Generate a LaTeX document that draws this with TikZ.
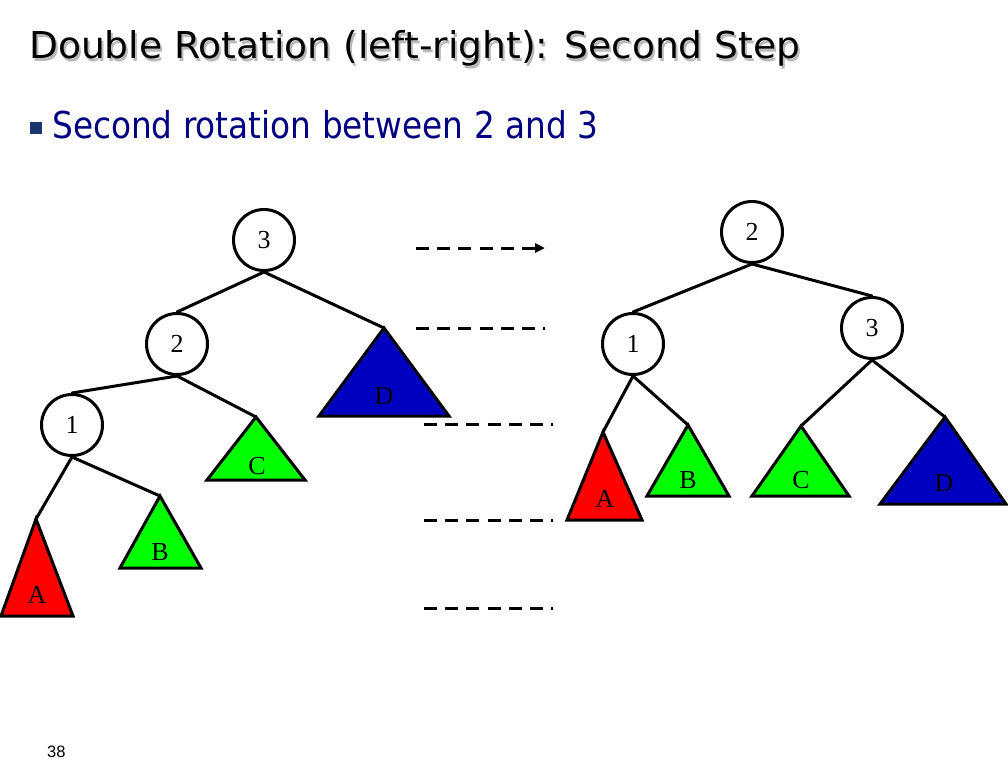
\documentclass[tikz,border=0pt]{standalone}
\usepackage{fontspec}
\setmainfont{Liberation Serif}
\newfontfamily\slidefont{DejaVu Sans}
\newfontfamily\numfont{Liberation Sans}
\usetikzlibrary{arrows.meta}
\definecolor{navy}{RGB}{0,0,128}
\definecolor{bulletblue}{RGB}{25,55,110}
\definecolor{tred}{RGB}{255,0,0}
\definecolor{tgreen}{RGB}{0,255,0}
\definecolor{tblue}{RGB}{0,0,192}
\definecolor{shadowgray}{RGB}{185,185,185}
\tikzset{
  keynode/.style={circle, draw=black, line width=3pt, fill=white, minimum size=61pt, inner sep=0pt, font=\fontsize{26}{26}\selectfont},
  edge/.style={line width=3pt, line cap=round},
  subtree/.style={draw=black, line width=3pt, line join=miter},
  tlabel/.style={font=\fontsize{26}{26}\selectfont, inner sep=0pt},
  dashline/.style={line width=3pt, dash pattern=on 13pt off 8.2pt},
}
\begin{document}
\begin{tikzpicture}[x=1pt,y=-1pt]
\useasboundingbox (0,0) rectangle (1008,768);
% title
\node[anchor=base west, inner sep=0pt, text=shadowgray] (titleshadow) at (31,61)
  {\resizebox{771pt}{\height}{\slidefont\fontsize{37}{44}\selectfont Double Rotation (left-right): Second Step}};
\node[anchor=base west, inner sep=0pt] (title) at (29,59)
  {\resizebox{771pt}{\height}{\slidefont\fontsize{37}{44}\selectfont Double Rotation (left-right): Second Step}};
% bullet
\fill[bulletblue] (30,122) rectangle (42,134);
\node[anchor=base west, inner sep=0pt, text=navy] (sub) at (52,138)
  {\resizebox{546pt}{\height}{\slidefont\fontsize{37}{44}\selectfont Second rotation between 2 and 3}};
% page number
\node[anchor=base west, inner sep=0pt] (pagenum) at (47,757) {\numfont\fontsize{16.5}{18}\selectfont 38};

% ---------- left tree ----------
\coordinate (LAa) at (36,519);
\coordinate (LBa) at (160,496);
\coordinate (LCa) at (256,417);
\coordinate (LDa) at (384,328);
\filldraw[subtree, fill=tred]   (LAa) -- (1,616) -- (73,616) -- cycle;
\filldraw[subtree, fill=tgreen] (LBa) -- (120,568) -- (201,568) -- cycle;
\filldraw[subtree, fill=tgreen] (LCa) -- (207,480) -- (305,480) -- cycle;
\filldraw[subtree, fill=tblue]  (LDa) -- (319,416) -- (449,416) -- cycle;
\node[tlabel] (LA) at (37,595) {A};
\node[tlabel] (LB) at (160,552) {B};
\node[tlabel] (LC) at (257,466) {C};
\node[tlabel] (LD) at (384,396) {D};

\node[keynode] (L3) at (264,240) {3};
\node[keynode] (L2) at (177,344) {2};
\node[keynode] (L1) at (72,425) {1};
\draw[edge] (L3.south) -- (L2.north);
\draw[edge] (L3.south) -- (LDa);
\draw[edge] (L2.south) -- (L1.north);
\draw[edge] (L2.south) -- (LCa);
\draw[edge] (L1.south) -- (LAa);
\draw[edge] (L1.south) -- (LBa);

% ---------- right tree ----------
\coordinate (RAa) at (603,432);
\coordinate (RBa) at (688,425);
\coordinate (RCa) at (801,426);
\coordinate (RDa) at (945,417);
\filldraw[subtree, fill=tred]   (RAa) -- (567,520) -- (642,520) -- cycle;
\filldraw[subtree, fill=tgreen] (RBa) -- (647,496) -- (729,496) -- cycle;
\filldraw[subtree, fill=tgreen] (RCa) -- (752,496) -- (849,496) -- cycle;
\filldraw[subtree, fill=tblue]  (RDa) -- (880,504) -- (1006,504) -- cycle;
\node[tlabel] (RA) at (605,499) {A};
\node[tlabel] (RB) at (688,480) {B};
\node[tlabel] (RC) at (801,480) {C};
\node[tlabel] (RD) at (944,483) {D};

\node[keynode] (R2) at (752,232) {2};
\node[keynode] (R1) at (633,344) {1};
\node[keynode] (R3) at (872,328) {3};
\draw[edge] (R2.south) -- (R1.north);
\draw[edge] (R2.south) -- (R3.north);
\draw[edge] (R1.south) -- (RAa);
\draw[edge] (R1.south) -- (RBa);
\draw[edge] (R3.south) -- (RCa);
\draw[edge] (R3.south) -- (RDa);

% ---------- dashed connectors ----------
\coordinate (d1s) at (416,248); \coordinate (d1e) at (545,248);
\coordinate (d2s) at (416,328); \coordinate (d2e) at (545,328);
\coordinate (d3s) at (424,424); \coordinate (d3e) at (553,424);
\coordinate (d4s) at (424,520); \coordinate (d4e) at (553,520);
\coordinate (d5s) at (424,608); \coordinate (d5e) at (553,608);
\draw[dashline, -{Triangle[length=10pt,width=9pt]}] (d1s) -- (d1e);
\draw[dashline] (d2s) -- (d2e);
\draw[dashline] (d3s) -- (d3e);
\draw[dashline] (d4s) -- (d4e);
\draw[dashline] (d5s) -- (d5e);
\end{tikzpicture}
\end{document}
